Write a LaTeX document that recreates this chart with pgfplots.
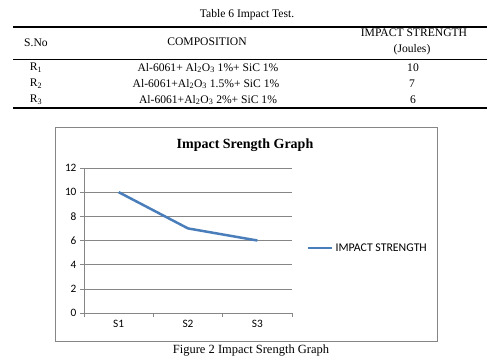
\documentclass[border=0pt]{standalone}
\usepackage{pgfplots}
\pgfplotsset{compat=1.18}
\usepackage{fontspec}
\setmainfont{Liberation Serif}
\newfontfamily\calibri{Carlito}
\definecolor{excelblue}{HTML}{4A7EBB}
\definecolor{gridgray}{HTML}{868686}
\begin{document}
\begin{tikzpicture}[x=1pt,y=1pt]
\path[use as bounding box] (0,0) rectangle (497,-361);
% ---- table ----
\begin{scope}[every node/.style={font=\fontsize{11.6}{13}\selectfont, inner sep=0pt}]
\node at (247,-15) {Table 6 Impact Test.};
\draw[line width=1.2pt] (13,-27) -- (487,-27);
\draw[line width=0.8pt] (13,-59) -- (487,-59);
\draw[line width=1.2pt] (13,-108) -- (487,-108);
\node at (36,-43) {S.No};
\node at (207,-42) {COMPOSITION};
\node at (414,-33) {IMPACT STRENGTH};
\node at (412,-50) {(Joules)};
\node at (36,-68) {R\textsubscript{1}};
\node at (36,-84) {R\textsubscript{2}};
\node at (36,-100) {R\textsubscript{3}};
\node at (208,-68) {Al-6061+ Al\textsubscript{2}O\textsubscript{3} 1\%+ SiC 1\%};
\node at (206,-84) {Al-6061+Al\textsubscript{2}O\textsubscript{3} 1.5\%+ SiC 1\%};
\node at (208,-100) {Al-6061+Al\textsubscript{2}O\textsubscript{3} 2\%+ SiC 1\%};
\node at (413,-68) {10};
\node at (412,-84) {7};
\node at (413,-100) {6};
\end{scope}
% ---- chart frame ----
\draw[gridgray, line width=0.8pt] (55,-127) rectangle (437,-341);
\node[font=\bfseries\fontsize{14}{16}\selectfont] at (245,-145) {Impact Srength Graph};
\begin{axis}[
  at={(84pt,-313pt)}, anchor=south west,
  scale only axis, width=208pt, height=145pt,
  xmin=-0.5, xmax=2.5, ymin=0, ymax=12,
  ytick={0,2,...,12},
  xtick={0,1,2}, xticklabels={S1,S2,S3},
  minor xtick={-0.5,0.5,1.5,2.5},
  axis x line*=bottom, axis y line*=left,
  ymajorgrids,
  grid style={gridgray, line width=0.6pt},
  axis line style={gridgray, line width=0.6pt},
  tick style={gridgray, line width=0.6pt},
  major x tick style={draw=none},
  major tick length=4pt, minor tick length=4pt,
  tick align=outside,
  /pgf/number format/assume math mode=true,
  ticklabel style={font=\calibri\fontsize{11.3}{13}\selectfont},
  legend style={at={(axis description cs:1.072,0.448)}, anchor=west, draw=none, fill=none,
    font=\calibri\fontsize{11.8}{13}\selectfont, inner sep=0pt},
  legend image code/.code={\draw[#1] (0pt,0pt) -- (24pt,0pt);},
]
\addplot[excelblue, line width=2.5pt, mark=none] coordinates {(0,10) (1,7) (2,6)};
\addlegendentry{IMPACT STRENGTH}
\end{axis}
\node[font=\fontsize{12.5}{15}\selectfont] at (251,-351) {Figure 2 Impact Srength Graph};
\end{tikzpicture}
\end{document}
